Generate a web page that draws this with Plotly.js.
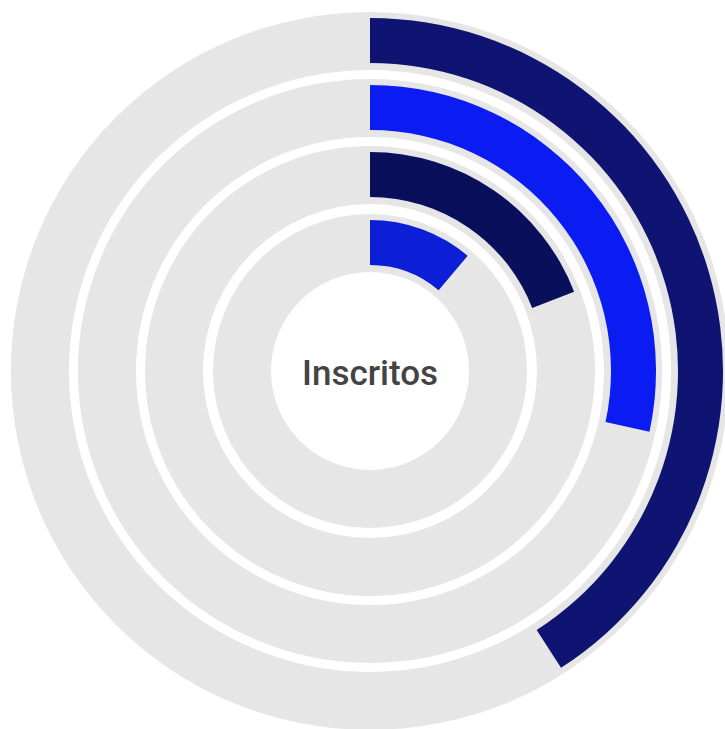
<!DOCTYPE html>
<html>
<head>
<meta charset="utf-8">
<script src="https://cdn.plot.ly/plotly-3.0.1.min.js"></script>
<style>
  html, body { margin: 0; padding: 0; overflow: hidden; background: #ffffff; }
</style>
</head>
<body>
<div id="grafico_inscritos"></div>
<script>
// datos de los anillos (de fuera hacia dentro)
var anillos = ['Anillo 1', 'Anillo 2', 'Anillo 3', 'Anillo 4'];
var valores = [40.9, 28.4, 19.1, 11.2];
var total = 100;
var colores = ['#0f1472', '#0b1cf2', '#0a0f5c', '#0c1fd6'];
var titulo = 'Inscritos';

// geometria en px
var W = 745, H = 745;
var cx = 370, cy = 371;
var radioExt = [359, 292, 225, 157];
var grosor = 58;
var margenArco = [6, 7];   // recorte del arco de color: exterior, interior
var gris = '#e6e6e6';

function dominio(r) {
  return {
    x: [(cx - r) / W, (cx + r) / W],
    y: [(H - cy - r) / H, (H - cy + r) / H]
  };
}

var trazas = [];
anillos.forEach(function (nombre, i) {
  var R = radioExt[i];
  var rIn = R - grosor;
  // pista gris
  trazas.push({
    type: 'pie',
    values: [1],
    labels: [nombre + ' fondo'],
    marker: { colors: [gris], line: { width: 0 } },
    domain: dominio(R),
    hole: rIn / R,
    textinfo: 'none',
    hoverinfo: 'skip',
    sort: false,
    showlegend: false
  });
  // arco de color
  var Rc = R - margenArco[0];
  var rc = rIn + margenArco[1];
  trazas.push({
    type: 'pie',
    values: [valores[i], total - valores[i]],
    labels: [nombre, nombre + ' resto'],
    marker: { colors: [colores[i], 'rgba(0,0,0,0)'], line: { width: 0 } },
    domain: dominio(Rc),
    hole: rc / Rc,
    direction: 'clockwise',
    rotation: 0,
    sort: false,
    textinfo: 'none',
    hoverinfo: 'skip',
    showlegend: false
  });
});

var layout = {
  width: W,
  height: H,
  margin: { l: 0, r: 0, t: 0, b: 0 },
  paper_bgcolor: '#ffffff',
  plot_bgcolor: '#ffffff',
  showlegend: false,
  annotations: [{
    text: titulo,
    x: cx / W,
    y: (H - cy - 2) / H,
    xref: 'paper',
    yref: 'paper',
    showarrow: false,
    font: { family: 'Roboto, sans-serif', size: 35, weight: 500, color: '#444444' }
  }]
};

Plotly.newPlot('grafico_inscritos', trazas, layout, { displayModeBar: false, staticPlot: true });
</script>
</body>
</html>
